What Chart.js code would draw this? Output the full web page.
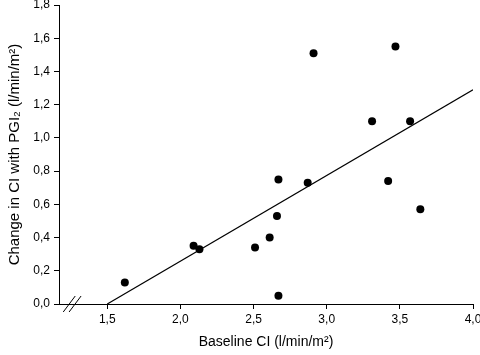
<!DOCTYPE html>
<html>
<head>
<meta charset="utf-8">
<script src="https://cdn.jsdelivr.net/npm/chart.js@4/dist/chart.umd.min.js"></script>
<style>
html,body{margin:0;padding:0;background:#fff;}
#wrap{width:480px;height:355px;}
</style>
</head>
<body>
<div id="wrap"><canvas id="c" width="480" height="355"></canvas></div>
<script>
const baselineCI = [1.62, 2.09, 2.13, 2.51, 2.61, 2.66, 2.67, 2.67, 2.87, 2.91, 3.47, 3.31, 3.57, 3.42, 3.64];
const changeCI   = [0.13, 0.35, 0.33, 0.34, 0.40, 0.53, 0.75, 0.05, 0.73, 1.51, 1.55, 1.10, 1.10, 0.74, 0.57];
const fitX = [1.5, 4.0];
const fitY = [0.0, 1.29];
const xTicks = [1.5, 2.0, 2.5, 3.0, 3.5, 4.0];
const yTicks = [0.0, 0.2, 0.4, 0.6, 0.8, 1.0, 1.2, 1.4, 1.6, 1.8];
const xBreak = [1.24, 1.28];

const fmt = v => v.toFixed(1).replace('.', ',');
const FONT = "Arial, 'Liberation Sans', sans-serif";

const breakPlugin = {
  id: 'axisBreak',
  afterDraw(chart) {
    const ctx = chart.ctx;
    const xs = chart.scales.x, ys = chart.scales.y;
    const yb = ys.getPixelForValue(0);
    ctx.save();
    ctx.strokeStyle = '#000';
    ctx.lineWidth = 1;
    xBreak.forEach(v => {
      const px = xs.getPixelForValue(v);
      ctx.beginPath();
      ctx.moveTo(px - 6, yb + 8);
      ctx.lineTo(px + 6, yb - 8);
      ctx.stroke();
    });
    ctx.restore();
  }
};

const noPad = s => { s.paddingTop = 0; s.paddingBottom = 0; s.paddingLeft = 0; s.paddingRight = 0; };

new Chart(document.getElementById('c'), {
  type: 'scatter',
  data: {
    datasets: [
      {
        type: 'scatter',
        data: baselineCI.map((x, i) => ({x: x, y: changeCI[i]})),
        backgroundColor: '#000',
        borderColor: '#000',
        pointRadius: 4,
        pointBorderWidth: 0
      },
      {
        type: 'line',
        data: fitX.map((x, i) => ({x: x, y: fitY[i]})),
        borderColor: '#000',
        borderWidth: 1.2,
        pointRadius: 0,
        fill: false
      }
    ]
  },
  options: {
    responsive: false,
    animation: false,
    events: [],
    layout: {padding: {top: 5, right: 7, left: 0, bottom: 0}},
    plugins: {legend: {display: false}, tooltip: {enabled: false}},
    scales: {
      x: {
        type: 'linear',
        min: 1.17,
        max: 4.0,
        afterBuildTicks: s => { s.ticks = xTicks.map(v => ({value: v})); },
        afterFit: s => { s.height = 51; noPad(s); },
        border: {display: true, color: '#000', width: 1},
        grid: {display: true, drawOnChartArea: false, drawTicks: true, tickLength: 5, tickColor: '#000', tickWidth: 1},
        ticks: {color: '#000', font: {family: FONT, size: 12}, padding: 3, maxRotation: 0, callback: v => fmt(v)},
        title: {display: true, text: 'Baseline CI (l/min/m²)', color: '#000', font: {family: FONT, size: 14}, padding: {top: 4, bottom: 4}}
      },
      y: {
        type: 'linear',
        min: 0,
        max: 1.8,
        afterBuildTicks: s => { s.ticks = yTicks.map(v => ({value: v})); },
        afterFit: s => { s.width = 59; noPad(s); },
        border: {display: true, color: '#000', width: 1},
        grid: {display: true, drawOnChartArea: false, drawTicks: true, tickLength: 5, tickColor: '#000', tickWidth: 1},
        ticks: {color: '#000', font: {family: FONT, size: 12}, padding: 4, callback: v => fmt(v)},
        title: {display: true, text: 'Change in CI with PGI₂ (l/min/m²)', color: '#000', font: {family: FONT, size: 15}, padding: {top: 6, bottom: 6}}
      }
    }
  },
  plugins: [breakPlugin]
});
</script>
</body>
</html>
